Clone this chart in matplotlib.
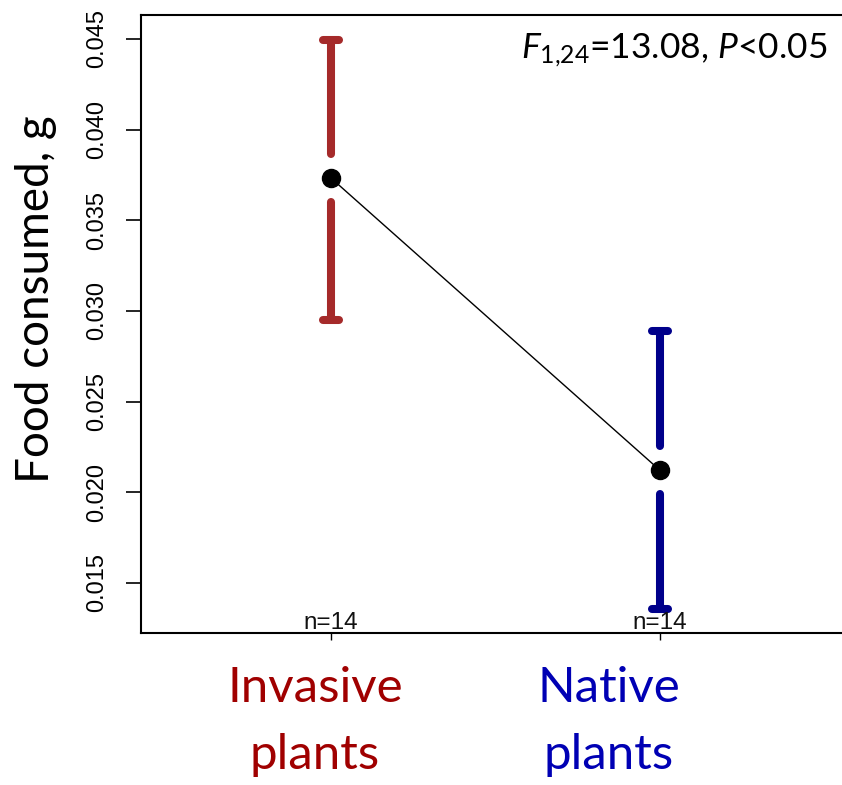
import matplotlib
matplotlib.use('Agg')
import matplotlib.pyplot as plt

# data
groups = ['Invasive\nplants', 'Native\nplants']
means = [0.03733, 0.02121]
upper = [0.04495, 0.02889]
lower = [0.02950, 0.01354]
n_labels = ['n=14', 'n=14']
bar_colors = ['#A52A2A', '#00008B']
label_colors = ['#A00000', '#0000B4']
yticks = [0.015, 0.020, 0.025, 0.030, 0.035, 0.040, 0.045]

plt.rcParams['mathtext.fontset'] = 'custom'
plt.rcParams['mathtext.rm'] = 'Lato'
plt.rcParams['mathtext.it'] = 'Lato:italic'

W, H = 842, 785
fig = plt.figure(figsize=(W / 100, H / 100), dpi=100)
# axes box in pixels: left 141, right 850 (cropped), top 15, bottom 633
ax = fig.add_axes([141 / W, (H - 633) / H, (850 - 141) / W, (633 - 15) / H])

ylo, yhi = 0.01224, 0.04632
xlo, xhi = 0.4225, 2.5775
ax.set_ylim(ylo, yhi)
ax.set_xlim(xlo, xhi)

x = [1, 2]
px_y = (633 - 15) / (yhi - ylo)      # pixels per data unit (y)
px_x = (850 - 141) / (xhi - xlo)     # pixels per data unit (x)
gap = 24 / px_y
cap = 8 / px_x

for xi, m, hi, lo, c in zip(x, means, upper, lower, bar_colors):
    ax.plot([xi, xi], [m + gap, hi], color=c, lw=5.8, solid_capstyle='round', zorder=2)
    ax.plot([xi, xi], [m - gap, lo], color=c, lw=5.8, solid_capstyle='round', zorder=2)
    for yy in (hi, lo):
        ax.plot([xi - cap, xi + cap], [yy, yy], color=c, lw=5.8,
                solid_capstyle='round', zorder=2)

ax.plot(x, means, color='black', lw=1.0, zorder=3)
ax.plot(x, means, 'o', color='black', ms=13, zorder=4)

for xi, t in zip(x, n_labels):
    ax.text(xi, ylo + 4 / px_y, t, ha='center', va='baseline',
            fontsize=17.5, family='Liberation Sans', color='#111111')

ax.set_yticks(yticks)
ax.set_yticklabels([f'{v:.3f}' for v in yticks], rotation=90, va='center',
                   family='Liberation Sans', fontsize=17)
ax.tick_params(axis='y', length=11, width=1.2, pad=13)
ax.set_xticks(x)
ax.set_xticklabels([])
ax.tick_params(axis='x', length=5, width=1.0)

for s in ['left', 'top', 'bottom']:
    ax.spines[s].set_linewidth(1.5)
ax.spines['right'].set_visible(False)

ax.set_ylabel('Food consumed, g', family='Lato', fontsize=33)
ax.yaxis.set_label_coords(-0.118, 0.54)

ax.text(0.968, 0.93, r'$F_{1{,}24}$=13.08, $P$<0.05', transform=ax.transAxes,
        ha='right', va='baseline', family='Lato', fontsize=25.5)

# category labels under the axis
label_x = [0.951, 1.845]
for lx, g, c in zip(label_x, groups, label_colors):
    ax.text(lx, -0.053, g, transform=ax.get_xaxis_transform(), ha='center', va='top',
            family='Lato', fontsize=35.5, color=c, linespacing=1.65)

fig.savefig('out.png', dpi=100)
